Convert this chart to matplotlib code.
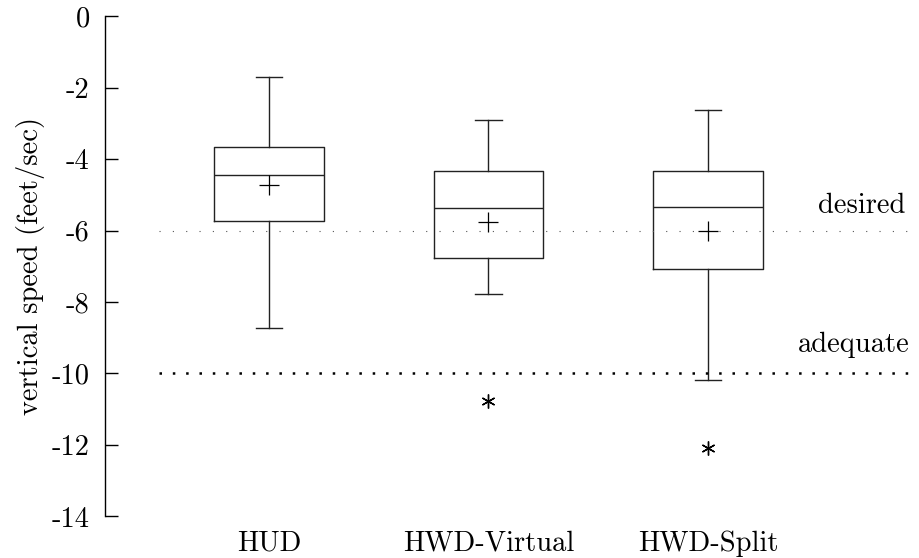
import matplotlib
matplotlib.use("Agg")
import matplotlib.pyplot as plt

plt.rcParams.update({
    "font.family": "serif",
    "font.serif": ["cmr10", "DejaVu Serif"],
    "axes.unicode_minus": False,
    "axes.formatter.use_mathtext": True,
})

# --- Data ---
categories = ["HUD", "HWD-Virtual", "HWD-Split"]
whisker_high = [-1.71, -2.92, -2.64]
q3_values = [-3.67, -4.33, -4.34]
medians = [-4.46, -5.38, -5.35]
means = [-4.73, -5.76, -6.00]
q1_values = [-5.74, -6.77, -7.08]
whisker_low = [-8.73, -7.77, -10.17]
outliers = [[], [-10.77], [-12.08]]

desired_level = -6
adequate_level = -10

stats = []
for i, name in enumerate(categories):
    stats.append({
        "label": name,
        "whislo": whisker_low[i],
        "q1": q1_values[i],
        "med": medians[i],
        "q3": q3_values[i],
        "whishi": whisker_high[i],
        "mean": means[i],
        "fliers": outliers[i],
    })

fig = plt.figure(figsize=(9.2, 5.58), dpi=100)
ax = fig.add_axes([0.1141, 0.0744, 0.8859, 0.8969])

line_kw = dict(color="#222222", linewidth=1.0)
ax.bxp(
    stats,
    positions=[1, 2, 3],
    widths=0.5,
    capwidths=0.12,
    showmeans=True,
    showfliers=True,
    boxprops=line_kw,
    whiskerprops=line_kw,
    capprops=line_kw,
    medianprops=line_kw,
    meanprops=dict(marker="+", markersize=14, markeredgecolor="black",
                   markeredgewidth=0.9, linestyle="none"),
    flierprops=dict(marker=(6, 2, 0), markersize=10, markeredgecolor="black",
                    markeredgewidth=1.0, linestyle="none"),
)

x_right = 3.966
ax.hlines(desired_level, 0.5, x_right, colors="#555555", linewidth=0.8,
          linestyles=[(0, (1, 11))])
ax.hlines(adequate_level, 0.5, x_right, colors="black", linewidth=1.8,
          linestyles=[(0, (1, 4.33))])

ax.text(3.90, -5.5, "desired", ha="right", va="baseline", fontsize=20.5)
ax.text(3.92, -9.4, "adequate", ha="right", va="baseline", fontsize=20.5)

ax.set_xlim(0.2528, x_right)
ax.set_ylim(-14, 0)
ax.set_yticks(range(-14, 1, 2))
ax.set_yticklabels([str(v) for v in range(-14, 1, 2)])
ax.set_xticks([1, 2, 3])
ax.set_xticklabels(categories)

ax.tick_params(axis="y", direction="in", length=9, width=1.0, pad=11,
               labelsize=20.5)
ax.tick_params(axis="x", length=0, pad=10, labelsize=20.5)

for side in ["top", "right", "bottom"]:
    ax.spines[side].set_visible(False)
ax.spines["left"].set_linewidth(1.0)
ax.spines["left"].set_color("black")

ax.set_ylabel("vertical speed (feet/sec)", fontsize=20.5, labelpad=5)

fig.savefig("out.png", dpi=100, facecolor="white")
